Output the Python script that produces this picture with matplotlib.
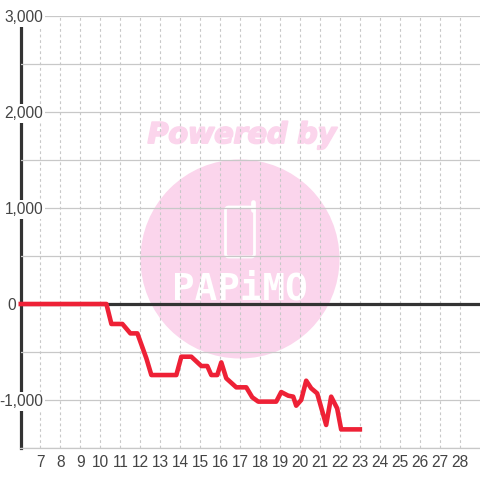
import matplotlib
matplotlib.use("Agg")
import matplotlib.pyplot as plt
from matplotlib.patches import Circle, FancyBboxPatch
from matplotlib.lines import Line2D
from matplotlib.transforms import ScaledTranslation
import matplotlib.patheffects as pe

# data
hours = [5.9, 10.3, 10.55, 11.1, 11.5, 11.85, 12.3, 12.55, 13.8, 14.05, 14.55, 15.05, 15.35, 15.55,
         15.85, 16.05, 16.3, 16.8, 17.3, 17.6, 17.9, 18.8, 19.05, 19.4, 19.65, 19.8, 20.05, 20.3,
         20.55, 20.85, 21.3, 21.55, 21.85, 22.05, 23.1]
values = [0, 0, -208, -208, -306, -306, -566, -740, -740, -549, -549, -646, -646, -740,
          -740, -608, -774, -868, -868, -972, -1017, -1017, -917, -955, -965, -1059, -1000, -799,
          -878, -931, -1260, -965, -1087, -1306, -1306]
x_ticks = list(range(7, 29))
y_major = [-1000, 0, 1000, 2000, 3000]
y_minor = [-1500, -500, 500, 1500, 2500]
y_labels = ["-1,000", "0", "1,000", "2,000", "3,000"]

plt.rcParams['font.family'] = ['Liberation Sans', 'DejaVu Sans']
fig = plt.figure(figsize=(4.8, 4.8), dpi=100)
W = H = 480.0
ax = fig.add_axes([20.5 / W, 32 / H, (480 - 20.5) / W, (448 - 16) / H])
ax.set_xlim(6, 29)
ax.set_ylim(-1500, 3000)
ax.patch.set_alpha(0)


def fx(px):
    return px / W


def fy(py):
    return 1 - py / H


# watermark behind the axes
pink = '#fbd5ec'
fig.add_artist(Circle((fx(240), fy(259)), 99.5 / W, transform=fig.transFigure, fc=pink, ec='none', zorder=-5))
fig.text(fx(242), fy(135), 'Powered by', color=pink, fontsize=20.5, fontweight='bold', fontstyle='italic',
         family=['DejaVu Sans'], ha='center', va='center', zorder=-4,
         path_effects=[pe.withStroke(linewidth=1.4, foreground=pink)])
fig.add_artist(FancyBboxPatch((fx(225.5), fy(257)), 29 / W, 50 / H, boxstyle='round,pad=0,rounding_size=0.007',
                              transform=fig.transFigure, fc='none', ec='white', lw=2.0, zorder=-4))
fig.add_artist(Line2D([fx(253.5), fx(253.5)], [fy(210), fy(201.5)], transform=fig.transFigure, color='white', lw=3.4,
                      solid_capstyle='round', zorder=-4))
fig.text(fx(240), fy(290), 'PAPiMO', color='white', fontsize=27, fontweight='bold', family=['DejaVu Sans Mono'],
         ha='center', va='center', zorder=-4)

ax.set_axisbelow(True)
ax.set_xticks(x_ticks)
ax.set_xticklabels([str(t) for t in x_ticks])
ax.set_yticks(y_major)
ax.set_yticklabels(y_labels)
ax.set_yticks(y_minor, minor=True)
ax.grid(True, axis='x', color='#c8c8c8', lw=0.8, ls=(0, (2.5, 2.5)))
ax.grid(True, axis='y', which='both', color='#c8c8c8', lw=0.9)
for s in ['top', 'right']:
    ax.spines[s].set_visible(False)
ax.spines['bottom'].set_color('#c8c8c8')
ax.spines['bottom'].set_linewidth(0.9)
ax.spines['left'].set_color('#333333')
ax.spines['left'].set_linewidth(2.3)
ax.spines['left'].set_zorder(0.1)
ax.tick_params(axis='both', which='both', length=0)
ax.tick_params(axis='x', labelsize=11.2, labelcolor='#444444', pad=5)
ax.tick_params(axis='y', labelsize=11.2, labelcolor='#444444', pad=-16.4)
for lab, text in zip(ax.get_yticklabels(), y_labels):
    lab.set_bbox(dict(fc='white', ec='none', pad=1.2))
    if text == "0":
        # the zero label sits further left than the others
        lab.set_transform(lab.get_transform() + ScaledTranslation(-27 / 100, 0, fig.dpi_scale_trans))

ax.axhline(0, color='#333333', lw=2.3, zorder=3)
ax.plot(hours, values, color='#ee2136', lw=3.3, solid_joinstyle='round', solid_capstyle='butt', zorder=4,
        clip_on=False)

fig.savefig('out.png', dpi=100)
